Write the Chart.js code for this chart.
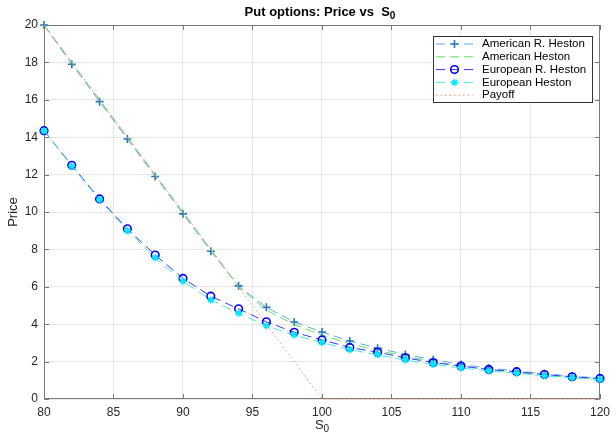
<!DOCTYPE html>
<html>
<head>
<meta charset="utf-8">
<script src="https://cdn.jsdelivr.net/npm/chart.js@4.4.1/dist/chart.umd.min.js"></script>
<style>
  body { margin: 0; background: #fff; }
  #wrap { width: 616px; height: 438px; position: relative; }
</style>
</head>
<body>
<div id="wrap"><canvas id="putChart"></canvas></div>
<script>
// Data
const s0 = [80, 82, 84, 86, 88, 90, 92, 94, 96, 98, 100, 102, 104, 106, 108, 110, 112, 114, 116, 118, 120];
const americanRHeston = [20.0, 17.9, 15.9, 13.9, 11.9, 9.9, 7.9, 6.05, 4.9, 4.12, 3.58, 3.1, 2.72, 2.38, 2.1, 1.85, 1.65, 1.5, 1.35, 1.22, 1.12];
const americanHeston = [20.0, 18.0, 16.0, 14.0, 12.0, 10.0, 8.0, 6.0, 4.75, 3.98, 3.42, 2.95, 2.6, 2.28, 2.0, 1.76, 1.57, 1.42, 1.27, 1.15, 1.05];
const europeanRHeston = [14.35, 12.5, 10.7, 9.1, 7.7, 6.45, 5.5, 4.82, 4.13, 3.57, 3.16, 2.76, 2.5, 2.2, 1.95, 1.76, 1.58, 1.46, 1.31, 1.19, 1.1];
const europeanHeston = [14.35, 12.45, 10.65, 9.0, 7.55, 6.3, 5.3, 4.58, 3.92, 3.42, 3.02, 2.64, 2.36, 2.08, 1.85, 1.66, 1.5, 1.38, 1.24, 1.13, 1.04];
const payoff = [20, 18, 16, 14, 12, 10, 8, 6, 4, 2, 0, 0, 0, 0, 0, 0, 0, 0, 0, 0, 0];
const xTicks = [80, 85, 90, 95, 100, 105, 110, 115, 120];
const yTicks = [0, 2, 4, 6, 8, 10, 12, 14, 16, 18, 20];

const FONT = '"Liberation Sans", Arial, Helvetica, sans-serif';

function pts(ys) {
    return s0.map((x, i) => ({ x: x, y: ys[i] }));
}

const datasets = [
    {
        label: 'American R. Heston',
        data: pts(americanRHeston),
        borderColor: '#5ea8e2', borderWidth: 1, borderDash: [9, 5],
        pointStyle: 'cross', pointRadius: 4, pointBorderColor: '#2b79b9', pointBorderWidth: 1.6,
        order: 5, clip: false
    },
    {
        label: 'American Heston',
        data: pts(americanHeston),
        borderColor: '#62e062', borderWidth: 1, borderDash: [9, 5],
        pointRadius: 0,
        order: 4, clip: false
    },
    {
        label: 'European R. Heston',
        data: pts(europeanRHeston),
        borderColor: '#3a3aff', borderWidth: 1, borderDash: [9, 5],
        pointStyle: 'circle', pointRadius: 3.8, pointBorderColor: '#0000ff', pointBackgroundColor: 'rgba(0,0,0,0)', pointBorderWidth: 1.6,
        order: 3, clip: false
    },
    {
        label: 'European Heston',
        data: pts(europeanHeston),
        borderColor: '#45e6f0', borderWidth: 1, borderDash: [9, 5],
        pointStyle: 'star', pointRadius: 3.5, pointBorderColor: '#00e8ff', pointBorderWidth: 1.5,
        order: 2, clip: false
    },
    {
        label: 'Payoff',
        data: pts(payoff),
        borderColor: '#ff8a60', borderWidth: 1, borderDash: [1.5, 3],
        pointRadius: 0,
        order: 1, clip: false
    }
];

// title, axis labels with subscripts, inward ticks, box and legend
const decor = {
    id: 'decor',
    beforeDatasetsDraw(chart) {
        const ctx = chart.ctx;
        const a = chart.chartArea;
        const xs = chart.scales.x, ys = chart.scales.y;
        ctx.save();
        // box + inward ticks
        ctx.strokeStyle = '#7a7a7a';
        ctx.lineWidth = 1;
        ctx.setLineDash([]);
        ctx.strokeRect(a.left + 0.5, a.top + 0.5, a.right - a.left - 1, a.bottom - a.top - 1);
        ctx.beginPath();
        xTicks.forEach(v => {
            const px = Math.round(xs.getPixelForValue(v)) + 0.5;
            ctx.moveTo(px, a.bottom); ctx.lineTo(px, a.bottom - 5);
            ctx.moveTo(px, a.top); ctx.lineTo(px, a.top + 5);
        });
        yTicks.forEach(v => {
            const py = Math.round(ys.getPixelForValue(v)) + 0.5;
            ctx.moveTo(a.left, py); ctx.lineTo(a.left + 5, py);
            ctx.moveTo(a.right, py); ctx.lineTo(a.right - 5, py);
        });
        ctx.stroke();
        ctx.restore();
    },
    afterDraw(chart) {
        const ctx = chart.ctx;
        const a = chart.chartArea;
        ctx.save();

        // text with subscript 0
        function subText(main, sub, cx, cy, size, bold, color) {
            const w = bold ? 'bold ' : '';
            ctx.font = w + size + 'px ' + FONT;
            const w1 = ctx.measureText(main).width;
            ctx.font = w + Math.round(size * 0.75) + 'px ' + FONT;
            const w2 = ctx.measureText(sub).width;
            const x = cx - (w1 + w2) / 2;
            ctx.fillStyle = color;
            ctx.textBaseline = 'middle';
            ctx.textAlign = 'left';
            ctx.font = w + size + 'px ' + FONT;
            ctx.fillText(main, x, cy);
            ctx.font = w + Math.round(size * 0.75) + 'px ' + FONT;
            ctx.fillText(sub, x + w1, cy + size * 0.3);
        }
        const cx = (a.left + a.right) / 2;
        subText('Put options: Price vs  S', '0', cx - 2, 12, 13, true, '#000');
        subText('S', '0', cx, 425, 13, false, '#262626');

        ctx.save();
        ctx.translate(13, (a.top + a.bottom) / 2);
        ctx.rotate(-Math.PI / 2);
        ctx.font = '13px ' + FONT;
        ctx.textAlign = 'center';
        ctx.textBaseline = 'middle';
        ctx.fillStyle = '#262626';
        ctx.fillText('Price', 0, 0);
        ctx.restore();

        // legend
        const lx = 433, ly = 36, lw = 159, lh = 66;
        ctx.fillStyle = '#fff';
        ctx.fillRect(lx, ly, lw, lh);
        ctx.strokeStyle = '#333';
        ctx.lineWidth = 1;
        ctx.strokeRect(lx + 0.5, ly + 0.5, lw, lh);
        chart.data.datasets.forEach((ds, i) => {
            const y = ly + 8 + i * 12.8;
            const mx = lx + 21.5;
            const r = ds.pointRadius;
            ctx.strokeStyle = ds.borderColor;
            ctx.lineWidth = ds.borderWidth;
            ctx.setLineDash(ds.borderDash);
            ctx.beginPath();
            ctx.moveTo(lx + 3, y);
            ctx.lineTo(lx + 40, y);
            ctx.stroke();
            ctx.setLineDash([]);
            if (r > 0) {
                ctx.strokeStyle = ds.pointBorderColor;
                ctx.lineWidth = ds.pointBorderWidth;
                ctx.beginPath();
                if (ds.pointStyle === 'circle') {
                    ctx.arc(mx, y, r, 0, Math.PI * 2);
                } else if (ds.pointStyle === 'cross') {
                    ctx.moveTo(mx - r, y); ctx.lineTo(mx + r, y);
                    ctx.moveTo(mx, y - r); ctx.lineTo(mx, y + r);
                } else {
                    for (let k = 0; k < 4; k++) {
                        const ang = k * Math.PI / 4;
                        const dx = Math.cos(ang) * r, dy = Math.sin(ang) * r;
                        ctx.moveTo(mx - dx, y - dy); ctx.lineTo(mx + dx, y + dy);
                    }
                }
                ctx.stroke();
            }
            ctx.fillStyle = '#000';
            ctx.font = '11.5px ' + FONT;
            ctx.textAlign = 'left';
            ctx.textBaseline = 'middle';
            ctx.fillText(ds.label, lx + 49, y);
        });
        ctx.restore();
    }
};

const ctx = document.getElementById('putChart').getContext('2d');
const putChart = new Chart(ctx, {
    type: 'line',
    data: { datasets: datasets },
    options: {
        responsive: true,
        maintainAspectRatio: false,
        animation: false,
        devicePixelRatio: 1,
        layout: { padding: { top: 25, right: 11, left: 0, bottom: 0 } },
        plugins: {
            legend: { display: false },
            title: { display: false },
            tooltip: { enabled: false }
        },
        scales: {
            x: {
                type: 'linear', min: 80, max: 120,
                afterBuildTicks: s => { s.ticks = xTicks.map(v => ({ value: v })); },
                afterFit: s => { s.height = 39; },
                grid: { color: '#e6e6e6', drawTicks: false },
                border: { display: false },
                ticks: { padding: 6, color: '#262626', font: { family: FONT, size: 12 }, maxRotation: 0 }
            },
            y: {
                type: 'linear', min: 0, max: 20,
                afterBuildTicks: s => { s.ticks = yTicks.map(v => ({ value: v })); },
                afterFit: s => { s.width = 44; },
                grid: { color: '#e6e6e6', drawTicks: false },
                border: { display: false },
                ticks: { padding: 6, color: '#262626', font: { family: FONT, size: 12 } }
            }
        }
    },
    plugins: [decor]
});
</script>
</body>
</html>
